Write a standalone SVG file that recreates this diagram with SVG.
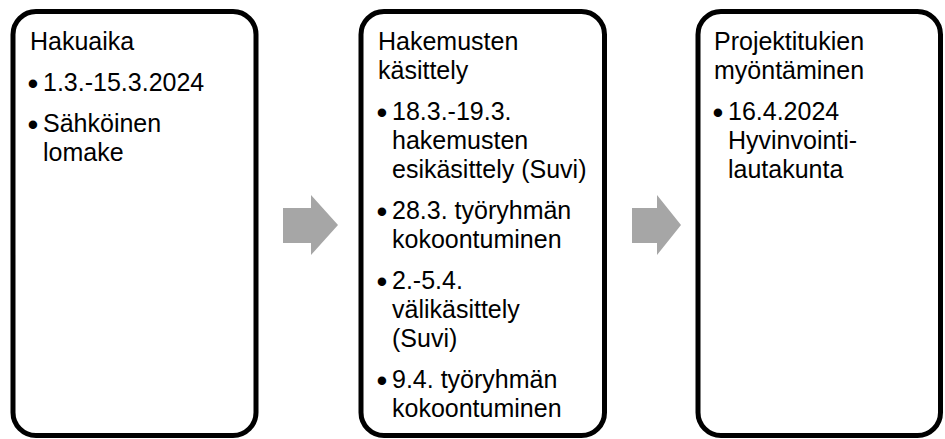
<svg xmlns="http://www.w3.org/2000/svg" width="945" height="439" viewBox="0 0 945 439">
<style>
.box{fill:#fff;stroke:#000;stroke-width:5}
.t{font-family:"Liberation Sans",Arial,sans-serif;font-size:25px;fill:#000}
.b{font-family:"Liberation Sans",Arial,sans-serif;font-size:31px;fill:#000;text-anchor:middle}
.arr{fill:#A6A6A6}
</style>
<rect width="945" height="439" fill="#fff"/>
<g id="connectors">
<polygon class="arr" points="283,208 311,208 311,195 338,225 311,255 311,243 283,243"/>
<polygon class="arr" points="632,208 657,208 657,195 681,225 657,255 657,243 632,243"/>
</g>
<g id="node-hakuaika">
<rect class="box" x="13" y="11.5" width="243" height="424" rx="23"/>
<text class="t" x="30" y="50">Hakuaika</text>
<text class="b" x="33" y="94">•</text>
<text class="t" x="43" y="91">1.3.-15.3.2024</text>
<text class="b" x="33" y="135">•</text>
<text class="t" x="43" y="132">Sähköinen</text>
<text class="t" x="43" y="161">lomake</text>
</g>
<g id="node-kasittely">
<rect class="box" x="361" y="11.5" width="243.5" height="424" rx="23"/>
<text class="t" x="378" y="50">Hakemusten</text>
<text class="t" x="378" y="79">käsittely</text>
<text class="b" x="382" y="123">•</text>
<text class="t" x="392" y="120">18.3.-19.3.</text>
<text class="t" x="392" y="149">hakemusten</text>
<text class="t" x="392" y="178">esikäsittely (Suvi)</text>
<text class="b" x="382" y="222">•</text>
<text class="t" x="392" y="219">28.3. työryhmän</text>
<text class="t" x="392" y="248">kokoontuminen</text>
<text class="b" x="382" y="292">•</text>
<text class="t" x="392" y="289">2.-5.4.</text>
<text class="t" x="392" y="318">välikäsittely</text>
<text class="t" x="392" y="347">(Suvi)</text>
<text class="b" x="382" y="391">•</text>
<text class="t" x="392" y="388">9.4. työryhmän</text>
<text class="t" x="392" y="417">kokoontuminen</text>
</g>
<g id="node-myontaminen">
<rect class="box" x="698" y="11.5" width="242.5" height="424" rx="23"/>
<text class="t" x="714" y="50">Projektitukien</text>
<text class="t" x="714" y="79">myöntäminen</text>
<text class="b" x="718" y="123">•</text>
<text class="t" x="728" y="120">16.4.2024</text>
<text class="t" x="728" y="149">Hyvinvointi-</text>
<text class="t" x="728" y="178">lautakunta</text>
</g>
</svg>
